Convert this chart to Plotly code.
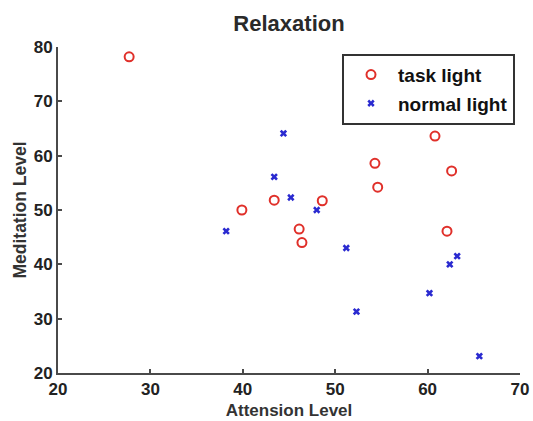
import plotly.graph_objects as go

# Data
task_x = [27.7, 39.9, 43.4, 48.6, 46.1, 46.4, 54.3, 54.6, 60.8, 62.6, 62.1]
task_y = [78.2, 50.0, 51.8, 51.7, 46.5, 44.0, 58.6, 54.2, 63.6, 57.2, 46.1]

normal_x = [44.4, 43.4, 45.2, 48.0, 38.2, 51.2, 52.3, 60.2, 62.4, 63.2, 65.6]
normal_y = [64.1, 56.1, 52.3, 50.0, 46.1, 43.0, 31.3, 34.7, 40.0, 41.5, 23.1]

x_ticks = [20, 30, 40, 50, 60, 70]
y_ticks = [20, 30, 40, 50, 60, 70, 80]

FONT = "Liberation Sans, Arial, sans-serif"
AXIS_COLOR = "#4a4a4a"

fig = go.Figure()
fig.add_trace(go.Scatter(
    x=task_x, y=task_y, mode="markers", name="<b>task light</b>", legendgroup="a",
    marker=dict(symbol="circle-open", size=9, color="#e0302a",
                line=dict(width=2, color="#e0302a")),
))
fig.add_trace(go.Scatter(
    x=normal_x, y=normal_y, mode="markers", name="<b>normal light</b>", legendgroup="b",
    marker=dict(symbol="x", size=6.5, color="#2a2ad0",
                line=dict(width=0)),
))

fig.update_layout(
    width=533, height=421,
    margin=dict(l=58, r=13, t=47, b=48, autoexpand=False),
    paper_bgcolor="white", plot_bgcolor="white",
    font=dict(family=FONT, color="#1a1a1a"),
    title=dict(text="<b>Relaxation</b>", x=0.5, xref="paper", xanchor="center",
               yref="container", y=1 - 23 / 421, yanchor="middle",
               font=dict(size=22, color="#2a2a2a", family=FONT)),
    xaxis=dict(
        range=[20, 70], tickvals=x_ticks, ticktext=[f"<b>{v}</b>" for v in x_ticks],
        showgrid=False, zeroline=False, showline=True, linecolor=AXIS_COLOR, linewidth=2,
        ticks="inside", ticklen=4, tickwidth=1.5, tickcolor=AXIS_COLOR,
        tickfont=dict(size=17, family=FONT, color="#222222"),
        ticklabeloverflow="allow", automargin=False,
        title=dict(text="<b>Attension Level</b>", font=dict(size=17, family=FONT, color="#333333"),
                   standoff=6),
        fixedrange=True,
    ),
    yaxis=dict(
        range=[20, 80], tickvals=y_ticks, ticktext=[f"<b>{v}</b>" for v in y_ticks],
        showgrid=False, zeroline=False, showline=True, linecolor=AXIS_COLOR, linewidth=2,
        ticks="inside", ticklen=4, tickwidth=1.5, tickcolor=AXIS_COLOR,
        tickfont=dict(size=17, family=FONT, color="#222222"),
        ticklabeloverflow="allow", automargin=False,
        title=dict(text="<b>Meditation Level</b>", font=dict(size=17.5, family=FONT, color="#333333"),
                   standoff=3),
        fixedrange=True,
    ),
    legend=dict(
        x=(342 - 58) / 462, y=(372.7 - 54) / 325.4, xanchor="left", yanchor="top",
        bgcolor="white", bordercolor="#333333", borderwidth=2,
        font=dict(size=19, family=FONT, color="#111111"),
        itemwidth=44, tracegroupgap=1,
    ),
    showlegend=True,
)

fig.write_html(
    "out.html",
    config={"displayModeBar": False, "responsive": False},
    post_script="document.body.style.margin='0';document.body.style.overflow='hidden';"
                "document.documentElement.style.overflow='hidden';",
)
